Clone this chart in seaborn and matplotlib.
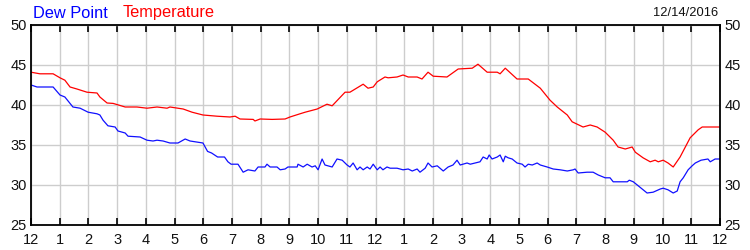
import matplotlib
matplotlib.use("Agg")
import matplotlib.pyplot as plt
import seaborn as sns
import pandas as pd

temp_hours = [0, 0.31, 0.77, 1.01, 1.18, 1.36, 1.60, 1.95, 2.30, 2.40, 2.65, 2.86, 3.28, 3.69, 4.04,
              4.39, 4.74, 4.84, 5.30, 5.61, 5.99, 6.48, 6.93, 7.11, 7.28, 7.74, 7.80, 7.98, 8.40,
              8.85, 9.02, 9.37, 9.55, 9.97, 10.31, 10.49, 10.94, 11.11, 11.57, 11.74, 11.92, 12.06,
              12.33, 12.44, 12.75, 12.96, 13.14, 13.45, 13.62, 13.83, 14.01, 14.49, 14.88, 15.37,
              15.57, 15.89, 16.24, 16.34, 16.52, 16.93, 17.32, 17.74, 18.08, 18.33, 18.68, 18.85,
              19.23, 19.48, 19.72, 20.0, 20.28, 20.45, 20.70, 20.94, 21.05, 21.32, 21.57, 21.74,
              21.85, 22.02, 22.19, 22.37, 22.61, 22.96, 23.24, 23.38, 24.0]
temp_values = [44.1, 43.9, 43.9, 43.4, 43.1, 42.25, 42.0, 41.6, 41.5, 41.0, 40.25, 40.2, 39.75, 39.75,
               39.6, 39.75, 39.6, 39.75, 39.5, 39.1, 38.75, 38.6, 38.5, 38.6, 38.25, 38.2, 38.0,
               38.25, 38.2, 38.25, 38.5, 38.9, 39.1, 39.5, 40.1, 39.9, 41.6, 41.6, 42.6, 42.1,
               42.25, 42.9, 43.5, 43.4, 43.5, 43.75, 43.5, 43.5, 43.25, 44.1, 43.6, 43.5, 44.5,
               44.6, 45.1, 44.1, 44.1, 43.9, 44.6, 43.25, 43.25, 42.1, 40.6, 39.75, 38.75, 37.9,
               37.25, 37.5, 37.25, 36.6, 35.6, 34.75, 34.5, 34.75, 34.1, 33.4, 32.9, 33.1, 32.9,
               33.1, 32.75, 32.25, 33.5, 35.9, 36.9, 37.25, 37.25]

dew_hours = [0, 0.21, 0.77, 1.01, 1.18, 1.46, 1.71, 1.99, 2.30, 2.40, 2.51, 2.68, 2.93, 3.03, 3.28,
             3.38, 3.80, 4.04, 4.25, 4.39, 4.60, 4.84, 5.12, 5.37, 5.54, 5.99, 6.15, 6.29, 6.50,
             6.74, 6.86, 6.97, 7.21, 7.39, 7.56, 7.80, 7.91, 8.15, 8.22, 8.33, 8.57, 8.68, 8.85,
             8.95, 9.27, 9.30, 9.48, 9.62, 9.79, 9.90, 10.0, 10.14, 10.24, 10.49, 10.66, 10.84,
             11.01, 11.11, 11.22, 11.36, 11.46, 11.57, 11.71, 11.81, 11.92, 12.06, 12.16, 12.26,
             12.40, 12.51, 12.75, 12.96, 13.14, 13.28, 13.45, 13.55, 13.73, 13.83, 13.97, 14.15,
             14.36, 14.53, 14.70, 14.84, 14.95, 15.19, 15.30, 15.64, 15.75, 15.89, 15.96, 16.06,
             16.24, 16.34, 16.45, 16.52, 16.62, 16.76, 16.93, 17.11, 17.21, 17.32, 17.46, 17.63,
             17.74, 17.98, 18.19, 18.43, 18.68, 18.89, 18.95, 19.06, 19.37, 19.58, 19.76, 20.0,
             20.17, 20.28, 20.77, 20.84, 20.98, 21.15, 21.32, 21.46, 21.67, 21.92, 22.02, 22.19,
             22.37, 22.51, 22.61, 22.72, 22.89, 23.03, 23.14, 23.34, 23.58, 23.66, 23.83, 24.0]
dew_values = [42.5, 42.25, 42.25, 41.25, 41.0, 39.75, 39.6, 39.1, 38.9, 38.75, 38.1, 37.4, 37.25,
              36.75, 36.5, 36.1, 36.0, 35.6, 35.5, 35.6, 35.5, 35.25, 35.25, 35.75, 35.5, 35.25,
              34.2, 34.0, 33.5, 33.5, 32.9, 32.6, 32.6, 31.6, 31.9, 31.75, 32.25, 32.25, 32.6,
              32.25, 32.25, 31.9, 32.0, 32.25, 32.25, 32.6, 32.25, 32.6, 32.25, 32.4, 31.9, 33.25,
              32.5, 32.25, 33.25, 33.1, 32.5, 32.25, 32.75, 31.9, 32.25, 31.9, 32.25, 32.0, 32.6,
              31.9, 32.25, 31.9, 32.25, 32.1, 32.1, 31.9, 32.0, 31.75, 32.0, 31.6, 32.1, 32.75,
              32.25, 32.4, 31.75, 32.25, 32.5, 33.1, 32.5, 32.75, 32.6, 32.9, 33.5, 33.25, 33.75,
              33.25, 33.5, 33.75, 32.9, 33.6, 33.4, 33.25, 32.75, 32.6, 32.25, 32.6, 32.5, 32.75,
              32.5, 32.25, 32.0, 31.9, 31.75, 31.9, 32.0, 31.5, 31.6, 31.6, 31.25, 30.9, 30.9,
              30.4, 30.4, 30.6, 30.4, 29.9, 29.4, 29.0, 29.1, 29.5, 29.6, 29.4, 29.0, 29.25,
              30.4, 30.9, 31.9, 32.4, 32.75, 33.1, 33.25, 32.9, 33.25, 33.25]

x_tick_labels = ["12", "1", "2", "3", "4", "5", "6", "7", "8", "9", "10", "11",
                 "12", "1", "2", "3", "4", "5", "6", "7", "8", "9", "10", "11", "12"]
y_ticks = [25, 30, 35, 40, 45, 50]
date_label = "12/14/2016"

sns.set_style("white")
plt.rcParams['font.family'] = ['Liberation Sans', 'DejaVu Sans']

df_t = pd.DataFrame({"hour": temp_hours, "value": temp_values})
df_d = pd.DataFrame({"hour": dew_hours, "value": dew_values})

fig = plt.figure(figsize=(7.5, 2.5), dpi=100)
ax = fig.add_axes([31/750, 25/250, 689/750, 200/250])

sns.lineplot(data=df_t, x="hour", y="value", color="#ff0000", linewidth=0.9, ax=ax, estimator=None)
sns.lineplot(data=df_d, x="hour", y="value", color="#1010ff", linewidth=0.9, ax=ax, estimator=None)

ax.set_xlim(0, 24)
ax.set_ylim(25, 50)
ax.set_xticks(range(25))
ax.set_xticklabels(x_tick_labels)
ax.set_yticks(y_ticks)
ax.set_xlabel("")
ax.set_ylabel("")
ax.grid(True, color="#cdcdcd", linewidth=1.0)
ax.set_axisbelow(True)
for s in ax.spines.values():
    s.set_color("black")
    s.set_linewidth(1.3)
    s.set_visible(True)
ax.tick_params(axis="x", which="both", direction="in", length=5, width=1.2, color="black",
               top=True, bottom=True, labelsize=10.5, pad=6, labelcolor="#111111")
ax.tick_params(axis="y", which="both", length=0, left=True, right=True,
               labelleft=True, labelright=True, labelsize=10.5, pad=3, labelcolor="#111111")

fig.text(33/750, 1 - 13/250, "Dew Point", color="#0000ff", fontsize=11.8, va="center", ha="left")
fig.text(123/750, 1 - 13/250, "Temperature", color="#ff0000", fontsize=11.8, va="center", ha="left")
fig.text(718/750, 1 - 13/250, date_label, color="#111111", fontsize=9.3, va="center", ha="right")

fig.savefig("out.png", dpi=100)
